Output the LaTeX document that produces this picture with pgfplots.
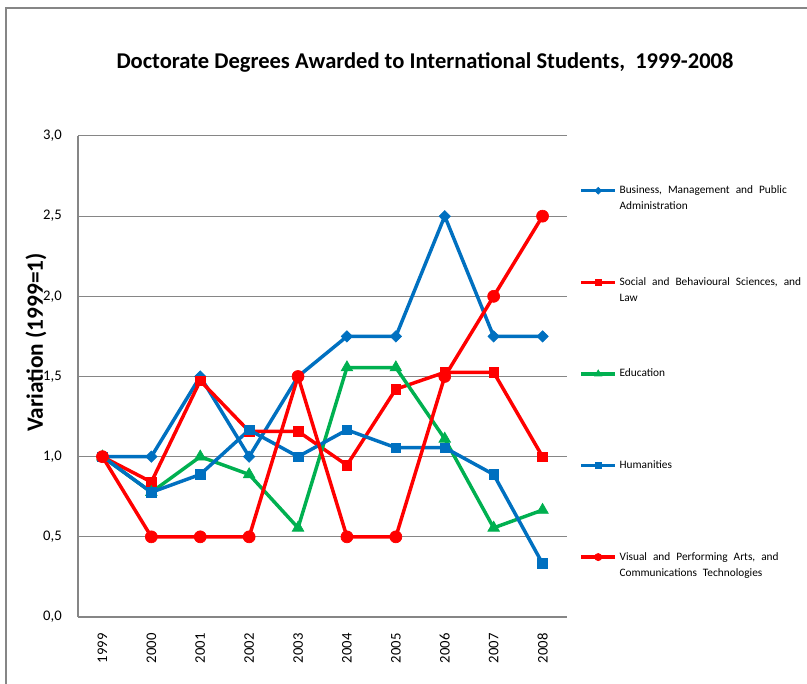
\documentclass[border=0pt]{standalone}
\usepackage{pgfplots}
\pgfplotsset{compat=1.18}
\usepackage{fontspec}
\setmainfont{Carlito}
\definecolor{cblue}{HTML}{0070C0}
\definecolor{cred}{HTML}{FF0000}
\definecolor{cgreen}{HTML}{00B050}
\definecolor{axgray}{HTML}{868686}
\newcommand\legfont{\fontsize{8.5}{12}\selectfont\spaceskip=4.5pt plus 1pt\relax}
\begin{document}
\begin{tikzpicture}
\useasboundingbox (0,0) rectangle (605.25pt,512.25pt);
\draw[axgray, line width=0.9pt] (4.5pt,-2pt) -- (4.5pt,506.25pt) -- (610pt,506.25pt);
\begin{axis}[
  at={(58.5pt,49.5pt)}, anchor=south west,
  scale only axis, width=366.75pt, height=360.75pt,
  xmin=-0.5, xmax=9.5, ymin=0, ymax=3,
  xtick={0,...,9},
  xticklabels={1999,2000,2001,2002,2003,2004,2005,2006,2007,2008},
  ytick={0,0.5,...,3},
  axis x line=bottom, axis y line=left,
  axis line style={-, draw=axgray, line width=1.5pt},
  major tick length=0pt,
  ymajorgrids, grid style={draw=axgray, line width=0.75pt},
  /pgf/number format/.cd, fixed, fixed zerofill, precision=1, use comma, assume math mode=true,
  /pgfplots/.cd,
  tick label style={font=\fontsize{11}{13}\selectfont, text=black},
  yticklabel style={inner xsep=12pt},
  xticklabel style={rotate=90, anchor=east, inner xsep=12pt},
  title={Doctorate Degrees Awarded to International Students,\ \ 1999-2008},
  title style={at={(axis description cs:0.7096,1.137)}, anchor=center, font=\bfseries\fontsize{16.9}{19}\selectfont},
  ylabel={Variation (1999=1)},
  ylabel style={at={(axis description cs:-0.0859,0.571)}, anchor=center, rotate=0, font=\bfseries\fontsize{17.5}{20}\selectfont},
  clip=false,
  every axis plot/.append style={line width=2.6pt},
  legend image code/.code={
    \draw[yshift=6pt, mark repeat=2, mark phase=2, #1, /tikz/every mark/.append style={scale=0.6}]
      plot coordinates {(0pt,0pt) (12.75pt,0pt) (25.5pt,0pt)};},
  legend style={at={(axis description cs:1.025,0.9026)}, anchor=north west,
    draw=none, fill=none, inner sep=0pt, row sep=45.3pt, column sep=0pt,
    font=\legfont, cells={align=left}},
  legend cell align=left,
]
\addplot[color=cblue, mark=square*, mark size=3pt, mark options={rotate=45, solid, line width=0.5pt}] coordinates {
 (0,1.0) (1,1.0) (2,1.5) (3,1.0) (4,1.5) (5,1.75) (6,1.75) (7,2.5) (8,1.75) (9,1.75)};
\addlegendentry{Business, Management and Public\\Administration}
\addplot[color=cred, mark=square*, mark size=3.6pt, mark options={solid, line width=0.5pt}] coordinates {
 (0,1.0) (1,0.842) (2,1.474) (3,1.158) (4,1.158) (5,0.947) (6,1.421) (7,1.526) (8,1.526) (9,1.0)};
\addlegendentry{Social and Behavioural Sciences, and\\Law}
\addplot[color=cgreen, mark=triangle*, mark size=5pt, mark options={solid, line width=0.5pt}] coordinates {
 (0,1.0) (1,0.778) (2,1.0) (3,0.889) (4,0.556) (5,1.556) (6,1.556) (7,1.111) (8,0.556) (9,0.667)};
\addlegendentry{Education\\\mbox{}}
\addplot[color=cblue, mark=square*, mark size=3.6pt, mark options={solid, line width=0.5pt}] coordinates {
 (0,1.0) (1,0.778) (2,0.889) (3,1.167) (4,1.0) (5,1.167) (6,1.056) (7,1.056) (8,0.889) (9,0.333)};
\addlegendentry{Humanities\\\mbox{}}
\addplot[color=cred, mark=*, mark size=4.5pt, mark options={solid, line width=0.5pt}] coordinates {
 (0,1.0) (1,0.5) (2,0.5) (3,0.5) (4,1.5) (5,0.5) (6,0.5) (7,1.5) (8,2.0) (9,2.5)};
\addlegendentry{Visual and Performing Arts, and\\Communications Technologies}
\end{axis}
\end{tikzpicture}
\end{document}
